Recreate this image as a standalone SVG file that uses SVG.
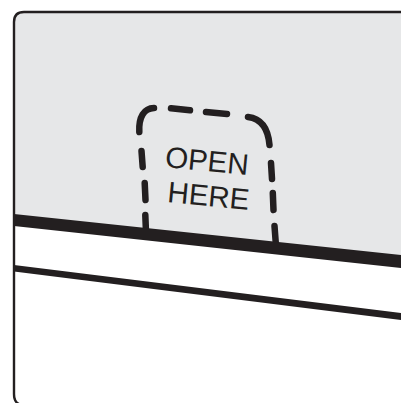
<svg xmlns="http://www.w3.org/2000/svg" width="401" height="403" viewBox="0 0 401 403">
  <style>
    .ink { fill: #231f20; }
    .frame { fill: none; stroke: #231f20; stroke-width: 2.4; }
    .dash { fill: none; stroke: #231f20; stroke-width: 6.5; stroke-linecap: round; }
    .label { font-family: "Liberation Sans", Arial, sans-serif; font-size: 29.5px; fill: #231f20; text-anchor: middle; }
  </style>
  <rect width="401" height="403" fill="#ffffff"/>
  <g id="package">
    <path d="M14,220 L14,22 Q14,12 24,12 L401,12 L401,262 Z" fill="#e6e7e8"/>
    <path class="frame" d="M19,404 Q14,402 14,394 L14,22 Q14,12 24,12 L402,12"/>
  </g>
  <g id="tab">
    <path class="dash" d="M146,232 L145.3,215 M145.5,200 L144.7,183 M142.7,167 L141.5,151 M139.3,132 C138.5,117 144,108.3 154,108 M171,108.3 L190,110.3 M206,112 L227,114 M248,117 C260,118.5 268,127 269.5,145 M271,163 L272,179 M272.8,193 L273.5,210 M274.5,226 L276,246"/>
    <text class="label" transform="translate(206,171) rotate(5.5)">OPEN</text>
    <text class="label" transform="translate(207.5,206) rotate(5.5)">HERE</text>
  </g>
  <g id="seals">
    <polygon class="ink" points="14,214 401,255 401,268 14,226"/>
    <polygon class="ink" points="14,265 401,313 401,320 14,271.5"/>
  </g>
</svg>
